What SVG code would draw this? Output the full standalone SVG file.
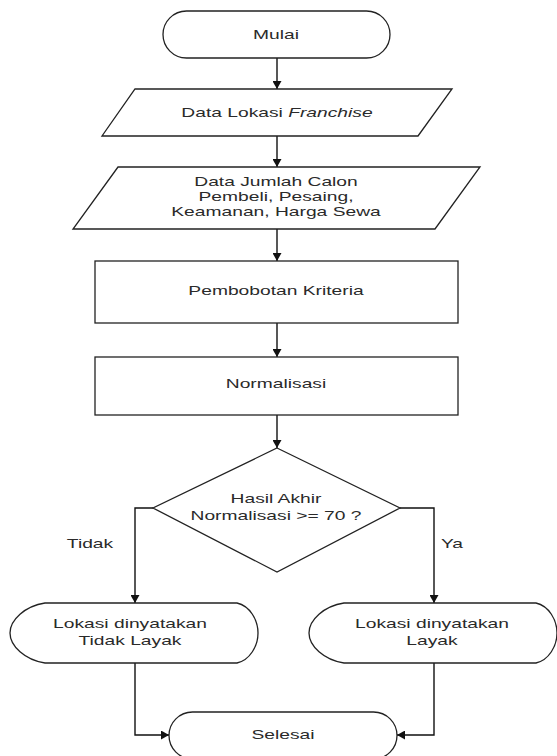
<svg xmlns="http://www.w3.org/2000/svg" width="557" height="756" viewBox="0 0 557 756">
<style>
.s{fill:#fff;stroke:#222;stroke-width:1.3}
.c{fill:none;stroke:#111;stroke-width:1.4}
.t{font-family:"Liberation Sans",Arial,sans-serif;font-size:13px;fill:#2a2a2a;text-anchor:middle}
</style>
<defs>
<marker id="ah" viewBox="0 0 10 10" refX="10" refY="5" markerUnits="userSpaceOnUse" markerWidth="8" markerHeight="9" orient="auto" preserveAspectRatio="none">
<path d="M0,0 L10,5 L0,10 Z" fill="#111"/>
</marker>
<path id="disp" d="M45 603 H237 C250 606 258 620 258 633 C258 646 250 660 237 663 H45 C25 660 10 646 10 633 C10 620 25 606 45 603 Z"/>
</defs>
<rect width="557" height="756" fill="#fff"/>
<g id="connectors">
<path class="c" d="M277 58 V89" marker-end="url(#ah)"/>
<path class="c" d="M277 136 V167" marker-end="url(#ah)"/>
<path class="c" d="M277 229 V261" marker-end="url(#ah)"/>
<path class="c" d="M277 323 V357" marker-end="url(#ah)"/>
<path class="c" d="M277 415 V448" marker-end="url(#ah)"/>
<path class="c" d="M153 508 H135 V603" marker-end="url(#ah)"/>
<path class="c" d="M400 508 H434 V603" marker-end="url(#ah)"/>
<path class="c" d="M135 663 V735 H169" marker-end="url(#ah)"/>
<path class="c" d="M434 663 V735 H397" marker-end="url(#ah)"/>
<text class="t" transform="translate(90 548) scale(1.48 1)">Tidak</text>
<text class="t" transform="translate(452 548) scale(1.48 1)">Ya</text>
</g>
<g id="mulai">
<rect class="s" x="163" y="11" width="227" height="47" rx="23.5"/>
<text class="t" transform="translate(276 39) scale(1.48 1)">Mulai</text>
</g>
<g id="data-lokasi">
<path class="s" d="M135 89 H452 L418 136 H102 Z"/>
<text class="t" transform="translate(277 117) scale(1.48 1)">Data Lokasi <tspan font-style="italic">Franchise</tspan></text>
</g>
<g id="data-jumlah">
<path class="s" d="M118 167 H480 L435 229 H73 Z"/>
<text class="t" transform="translate(276 185.5) scale(1.48 1)"><tspan x="0" y="0">Data Jumlah Calon</tspan><tspan x="0" y="15.5">Pembeli, Pesaing,</tspan><tspan x="0" y="31">Keamanan, Harga Sewa</tspan></text>
</g>
<g id="pembobotan">
<rect class="s" x="95" y="261" width="363" height="62"/>
<text class="t" transform="translate(276 295) scale(1.48 1)">Pembobotan Kriteria</text>
</g>
<g id="normalisasi">
<rect class="s" x="95" y="357" width="363" height="58"/>
<text class="t" transform="translate(276 388) scale(1.48 1)">Normalisasi</text>
</g>
<g id="keputusan">
<path class="s" d="M277 448 L400 508 L277 572 L153 508 Z"/>
<text class="t" transform="translate(276 503) scale(1.48 1)"><tspan x="0" y="0">Hasil Akhir</tspan><tspan x="0" y="17">Normalisasi &gt;= 70 ?</tspan></text>
</g>
<g id="tidak-layak">
<use href="#disp" class="s"/>
<text class="t" transform="translate(130 628) scale(1.48 1)"><tspan x="0" y="0">Lokasi dinyatakan</tspan><tspan x="0" y="17">Tidak Layak</tspan></text>
</g>
<g id="layak">
<use href="#disp" class="s" transform="translate(299 0)"/>
<text class="t" transform="translate(432 628) scale(1.48 1)"><tspan x="0" y="0">Lokasi dinyatakan</tspan><tspan x="0" y="17">Layak</tspan></text>
</g>
<g id="selesai">
<rect class="s" x="169" y="712" width="228" height="47" rx="23.5"/>
<text class="t" transform="translate(283 739) scale(1.48 1)">Selesai</text>
</g>
</svg>
